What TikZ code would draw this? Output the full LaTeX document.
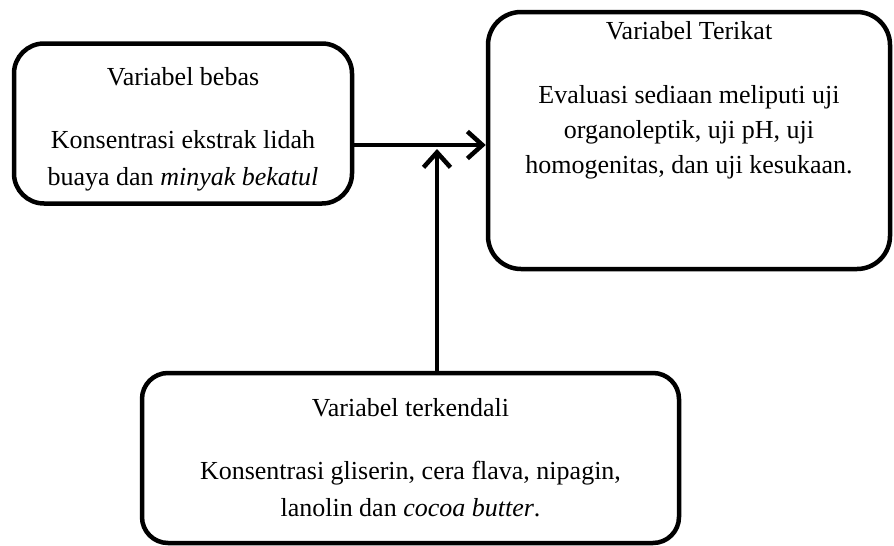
\documentclass[tikz,border=0pt]{standalone}
\usepackage{fontspec}
\setmainfont{Liberation Serif}
\usetikzlibrary{arrows.meta}

\begin{document}
\begin{tikzpicture}[x=1pt, y=-1pt, >={Straight Barb[length=15pt,width=27pt]},
  kotak/.style={draw, line width=4.5pt, rounded corners=26pt},
  isi/.style={align=center, inner sep=0pt, font=\fontsize{26}{37}\selectfont}]
  \useasboundingbox (0,0) rectangle (894,546);

  % kotak-kotak
  \node[kotak, rounded corners=30pt, minimum width=338pt, minimum height=160pt] (bebas) at (183,123.5) {};
  \node[kotak, rounded corners=33pt, minimum width=402pt, minimum height=257pt] (terikat) at (689,140.5) {};
  \node[kotak, minimum width=537pt, minimum height=170pt] (kendali) at (410.5,458) {};

  % isi teks
  \node[isi] (bebasisi) at ([yshift=-6pt]bebas)
    {Variabel bebas\\[26pt]Konsentrasi ekstrak lidah\\buaya dan \textit{minyak bekatul}};
  \node[isi, anchor=north, font=\fontsize{26}{35}\selectfont] (terikatisi) at (689,21)
    {Variabel Terikat\\[29pt]Evaluasi sediaan meliputi uji\\organoleptik, uji pH, uji\\homogenitas, dan uji kesukaan.};
  \node[isi] (kendaliisi) at (kendali)
    {Variabel terkendali\\[26pt]Konsentrasi gliserin, cera flava, nipagin,\\lanolin dan \textit{cocoa butter}.};

  % panah
  \coordinate (simpang) at (437,145);
  \coordinate (ujung) at (437,149);
  \draw[->, line width=4.5pt] (bebas.east |- simpang) -- (terikat.west |- simpang);
  \draw[->, line width=4.5pt] (kendali.north -| ujung) -- (ujung);
\end{tikzpicture}
\end{document}
